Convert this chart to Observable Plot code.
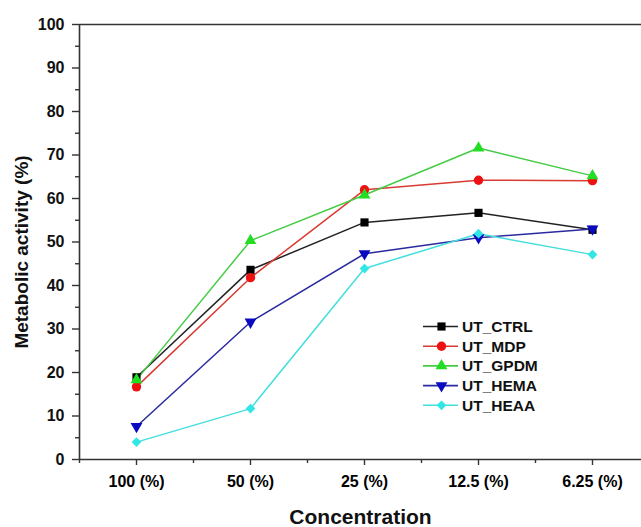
<!DOCTYPE html>
<html>
<head>
<meta charset="utf-8">
<script src="https://cdn.jsdelivr.net/npm/d3@7"></script>
<script src="https://cdn.jsdelivr.net/npm/@observablehq/plot@0.6"></script>
<style>
  html, body { margin: 0; padding: 0; background: #fff; }
  #wrap { position: relative; width: 641px; height: 527px; overflow: hidden; font-family: "Liberation Sans", Arial, sans-serif; }
  #legend { position: absolute; left: 0; top: 0; }
</style>
</head>
<body>
<div id="wrap"></div>
<script>
const concentrations = ["100 (%)", "50 (%)", "25 (%)", "12.5 (%)", "6.25 (%)"];
const seriesNames = ["UT_CTRL", "UT_MDP", "UT_GPDM", "UT_HEMA", "UT_HEAA"];
const ctrl = [18.9, 43.6, 54.5, 56.7, 52.8];
const mdp  = [16.7, 41.8, 62.0, 64.2, 64.1];
const gpdm = [18.3, 50.3, 60.8, 71.6, 65.2];
const hema = [7.6, 31.6, 47.3, 51.0, 53.0];
const heaa = [4.0, 11.7, 43.9, 51.9, 47.1];
const yMajorTicks = [0, 10, 20, 30, 40, 50, 60, 70, 80, 90, 100];
const yMinorTicks = [5, 15, 25, 35, 45, 55, 65, 75, 85, 95];
const xMinorTicks = [0.5, 1.5, 2.5, 3.5, 4.5];

const styles = {
  "UT_CTRL": {line: "#222222", fill: "#000000", symbol: "square", r: 4.6, rotate: 0},
  "UT_MDP":  {line: "#d93a32", fill: "#ee1111", symbol: "circle", r: 4.7, rotate: 0},
  "UT_GPDM": {line: "#45cc45", fill: "#22dd22", symbol: "triangle", r: 4.4, rotate: 0},
  "UT_HEMA": {line: "#2a2aa0", fill: "#0a0ac0", symbol: "triangle", r: 4.4, rotate: 180},
  "UT_HEAA": {line: "#44dede", fill: "#33e6e6", symbol: "diamond2", r: 4.4, rotate: 0}
};

const values = [ctrl, mdp, gpdm, hema, heaa];
const data = [];
seriesNames.forEach((s, i) => {
  values[i].forEach((v, j) => data.push({series: s, x: j + 1, y: v}));
});

const axisColor = "#333";
const marks = [];
// frame lines
marks.push(Plot.ruleY([0], {stroke: axisColor, strokeWidth: 1.6}));
marks.push(Plot.ruleY([100], {stroke: axisColor, strokeWidth: 1.6}));
marks.push(Plot.ruleX([0.5], {stroke: axisColor, strokeWidth: 1.6}));
// axes
marks.push(Plot.axisY(yMajorTicks, {tickSize: 7, tickPadding: 8, fontSize: 16, fontWeight: "bold", stroke: axisColor, strokeWidth: 1.4, color: "#111", label: null}));
marks.push(Plot.axisY(yMinorTicks, {tickSize: 4, text: null, stroke: axisColor, strokeWidth: 1.4, label: null}));
marks.push(Plot.axisX([1, 2, 3, 4, 5], {tickSize: 6, tickPadding: 10, fontSize: 16, fontWeight: "bold", stroke: axisColor, strokeWidth: 1.4, tickFormat: d => concentrations[d - 1], label: null}));
marks.push(Plot.axisX(xMinorTicks, {tickSize: 4, text: null, stroke: axisColor, strokeWidth: 1.4, label: null}));
// axis titles
marks.push(Plot.text(["Metabolic activity (%)"], {frameAnchor: "left", textAnchor: "middle", dx: -58, dy: 10, rotate: -90, fontSize: 19, fontWeight: "bold", fill: "#111"}));
marks.push(Plot.text(["Concentration"], {frameAnchor: "bottom", textAnchor: "middle", dy: 64, fontSize: 21, fontWeight: "bold", fill: "#111"}));
// series
seriesNames.forEach(s => {
  const st = styles[s];
  const d = data.filter(r => r.series === s);
  marks.push(Plot.line(d, {x: "x", y: "y", stroke: st.line, strokeWidth: 1.5}));
});
seriesNames.forEach(s => {
  const st = styles[s];
  const d = data.filter(r => r.series === s);
  marks.push(Plot.dot(d, {x: "x", y: "y", symbol: () => st.symbol, r: st.r, fill: st.fill, stroke: "none", rotate: st.rotate}));
});

const chart = Plot.plot({
  width: 641,
  height: 527,
  marginLeft: 79,
  marginTop: 24,
  marginBottom: 68,
  marginRight: 0,
  style: {fontFamily: "'Liberation Sans', Arial, sans-serif", background: "#fff"},
  x: {domain: [0.5, 5.5], range: [79, 649], axis: null},
  y: {domain: [0, 100], axis: null},
  symbol: {type: "identity"},
  marks
});
document.getElementById("wrap").appendChild(chart);

// legend overlay
const lg = d3.select("#wrap").append("svg").attr("id", "legend")
  .attr("width", 641).attr("height", 527);
const lx0 = 423, lx1 = 458, lmx = 441.5, ltx = 462, ly0 = 326.5, ldy = 19.7;
seriesNames.forEach((s, i) => {
  const st = styles[s];
  const y = ly0 + i * ldy;
  const g = lg.append("g");
  g.append("line").attr("x1", lx0).attr("x2", lx1).attr("y1", y).attr("y2", y)
    .attr("stroke", st.line).attr("stroke-width", 1.6);
  const symMap = {square: d3.symbolSquare, circle: d3.symbolCircle, triangle: d3.symbolTriangle, diamond2: d3.symbolDiamond2};
  const size = Math.PI * st.r * st.r;
  g.append("path").attr("d", d3.symbol(symMap[st.symbol], size)())
    .attr("transform", `translate(${lmx},${y}) rotate(${st.rotate})`)
    .attr("fill", st.fill);
  g.append("text").attr("x", ltx).attr("y", y).attr("dy", "0.36em")
    .attr("font-family", "'Liberation Sans', Arial, sans-serif")
    .attr("font-size", 15.5).attr("font-weight", "bold").attr("fill", "#111")
    .text(s);
});
</script>
</body>
</html>
